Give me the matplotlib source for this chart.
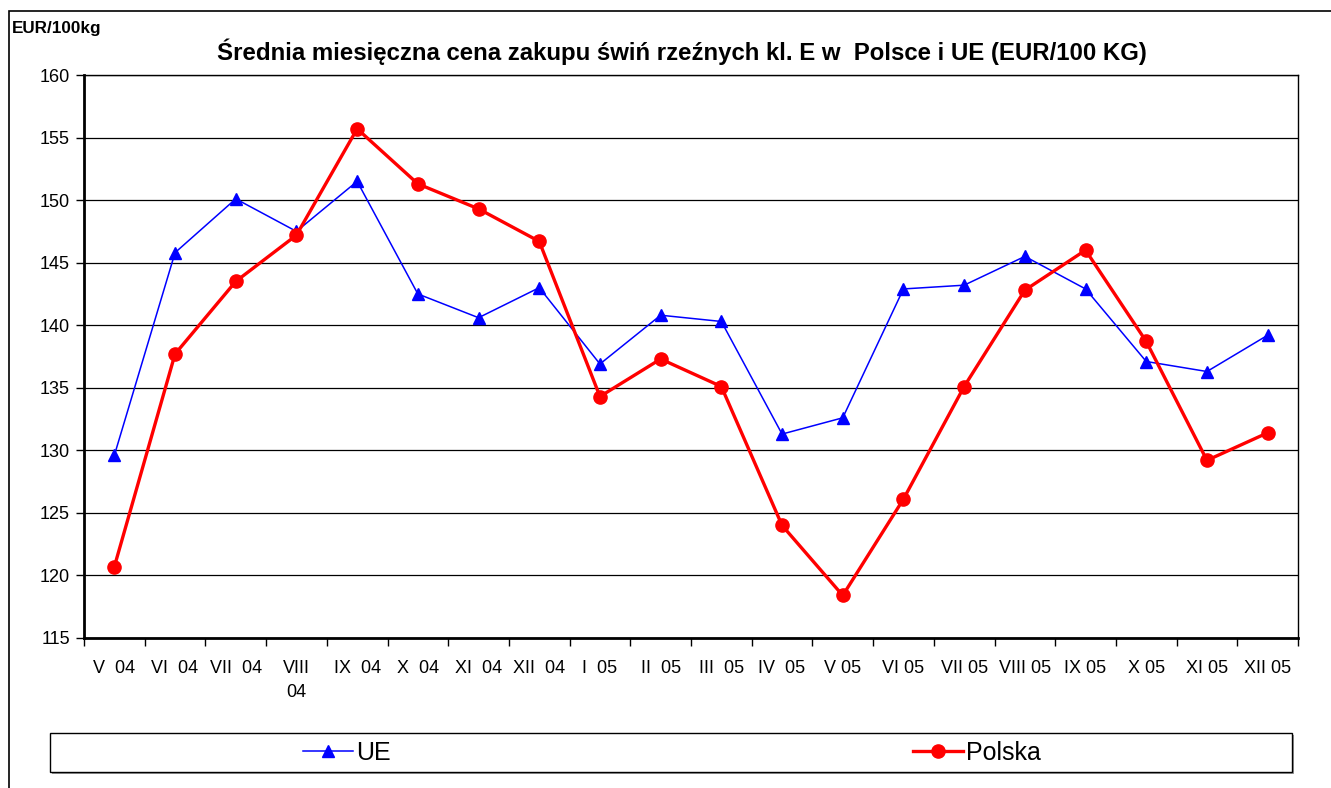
import numpy as np
import matplotlib.pyplot as plt
from matplotlib.patches import Rectangle

plt.rcParams['font.family'] = ['Liberation Sans Narrow', 'Liberation Sans', 'DejaVu Sans']

months = ['V  04', 'VI  04', 'VII  04', 'VIII\n04', 'IX  04', 'X  04', 'XI  04', 'XII  04',
          'I  05', 'II  05', 'III  05', 'IV  05', 'V 05', 'VI 05', 'VII 05', 'VIII 05',
          'IX 05', 'X 05', 'XI 05', 'XII 05']
ue = [129.6, 145.8, 150.1, 147.5, 151.5, 142.5, 140.6, 143.0, 136.9, 140.8,
      140.3, 131.3, 132.6, 142.9, 143.2, 145.5, 142.9, 137.1, 136.3, 139.2]
polska = [120.7, 137.7, 143.5, 147.2, 155.7, 151.3, 149.3, 146.7, 134.3, 137.3,
          135.1, 124.0, 118.4, 126.1, 135.1, 142.8, 146.0, 138.7, 129.2, 131.4]

W, H = 1331, 788
fig = plt.figure(figsize=(W/100, H/100), dpi=100)
ax = fig.add_axes([84/W, 1 - 638/H, 1214/W, 563/H])

# outer chart frame
fig.patches.append(Rectangle((9/W, -0.05), 1.1, 1 - 11/H + 0.05,
                             transform=fig.transFigure, fill=False,
                             edgecolor='black', linewidth=1.2))

x = np.arange(len(months))
l_ue, = ax.plot(x, ue, color='blue', lw=1.1, marker='^', ms=9, label='UE', zorder=3)
l_pl, = ax.plot(x, polska, color='red', lw=2.4, marker='o', ms=9.5, label='Polska', zorder=4)

ax.set_xlim(-0.5, len(months) - 0.5)
ax.set_ylim(115, 160)
ax.set_yticks(np.arange(115, 161, 5))
ax.grid(axis='y', color='black', lw=0.9)
ax.set_axisbelow(True)

ax.set_xticks(np.arange(-0.5, len(months), 1))
ax.set_xticklabels([])
ax.set_xticks(x, minor=True)
ax.set_xticklabels(months, minor=True, fontsize=13, linespacing=1.5, va='top')
ax.tick_params(axis='x', which='major', length=6, width=1, direction='out')
ax.tick_params(axis='x', which='minor', length=0, pad=16)
ax.tick_params(axis='y', length=6, width=1, labelsize=13, pad=4)

for s in ['left', 'bottom']:
    ax.spines[s].set_linewidth(2)
for s in ['top', 'right']:
    ax.spines[s].set_linewidth(1)

fig.text(682/W, 1 - 52/H, 'Średnia miesięczna cena zakupu świń rzeźnych kl. E w  Polsce i UE (EUR/100 KG)',
         ha='center', va='center', fontsize=17.3, fontweight='bold', family='Liberation Sans')
fig.text(12/W, 1 - 28/H, 'EUR/100kg', ha='left', va='center', fontsize=12.3,
         fontweight='bold', family='Liberation Sans')

# legend box with light shadow
fig.patches.append(Rectangle((52/W, 1 - 774/H), 1242/W, 39/H, transform=fig.transFigure,
                             facecolor='#999999', edgecolor='none', zorder=1))
fig.patches.append(Rectangle((50/W, 1 - 772/H), 1242/W, 39/H, transform=fig.transFigure,
                             facecolor='white', edgecolor='black', linewidth=1, zorder=2))
for line, cx in [(l_ue, 347), (l_pl, 977)]:
    lg = fig.legend([line], [line.get_label()], loc='center', bbox_to_anchor=(cx/W, 1 - 753/H),
                    fontsize=18, frameon=False, handlelength=2.0, handletextpad=0.15,
                    borderpad=0, borderaxespad=0)
    lg.set_zorder(3)

fig.savefig('out.png', dpi=100)
